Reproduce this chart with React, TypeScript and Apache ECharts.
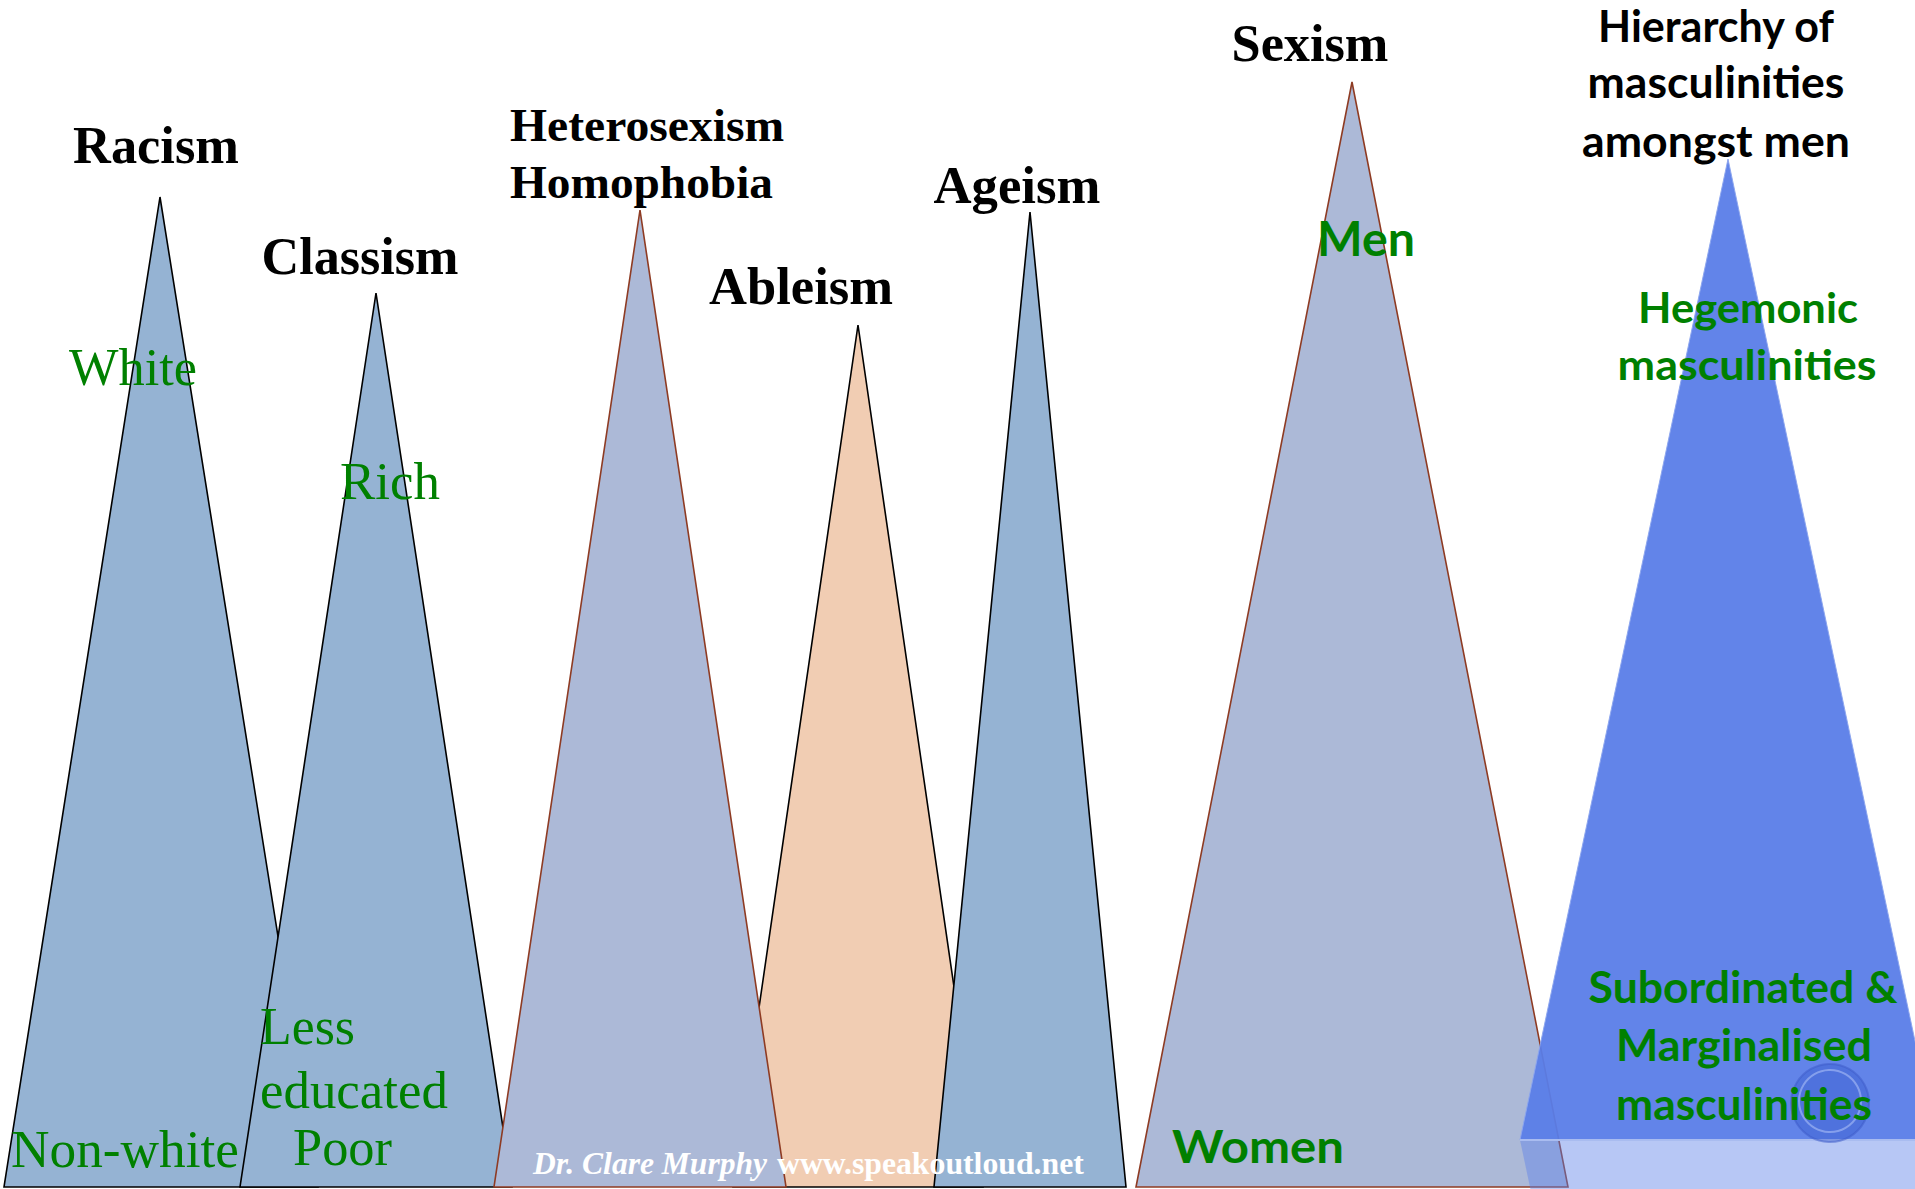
import React, { useEffect, useRef } from "react";
import * as echarts from "echarts";

const W = 1915;
const H = 1189;

// ---- Triangles (drawing order) ----
const triangleNames = ["Racism", "Classism", "Ableism", "Heterosexism", "Ageism", "Sexism", "Hierarchy"];
const apexX = [160, 376, 858, 640, 1030, 1352, 1728];
const apexY = [197, 293, 325, 210, 212, 82, 159];
const baseLeft = [4, 240, 733, 494, 934, 1136, 1520];
const baseRight = [318, 512, 983, 786, 1126, 1568, 1936];
const baseY = [1187, 1187, 1187, 1187, 1187, 1187, 1140];
const fillColors = ["#95B3D3", "#95B3D3", "#F1CDB3", "#ACB9D7", "#95B3D3", "#ACB9D7", "#5A7DE8"];
const strokeColors = ["#000000", "#000000", "#000000", "#8E3B23", "#000000", "#8E3B23", "#8CA5EE"];
const fillOpacity = [1, 1, 1, 1, 1, 1, 0.95];
const HIER = 6;

// ---- Texts: [text, x, baseline, fontSize, targetWidth, align] ----
const SERIF = '"Liberation Serif", "Times New Roman", serif';
const SANS = 'Lato, "Open Sans", sans-serif';

const blackSerifTitles: [string, number, number, number, number, string][] = [
  ["Racism", 156, 163, 53, 166, "center"],
  ["Classism", 360, 274, 53, 197, "center"],
  ["Heterosexism", 510, 141, 47, 274, "left"],
  ["Homophobia", 510, 198, 47, 263, "left"],
  ["Ableism", 801, 304, 53, 184, "center"],
  ["Ageism", 1017, 203, 52, 167, "center"],
  ["Sexism", 1310, 61, 52, 157, "center"],
];
const greenSerifLabels: [string, number, number, number, number, string][] = [
  ["White", 133, 385, 52, 128, "center"],
  ["Rich", 390, 499, 53, 100, "center"],
  ["Non-white", 125, 1167, 53, 228, "center"],
  ["Less", 260, 1044, 53, 95, "left"],
  ["educated", 260, 1108, 53, 188, "left"],
  ["Poor", 293, 1165, 53, 99, "left"],
];
const blackSansTitles: [string, number, number, number, number, string][] = [
  ["Hierarchy of", 1716, 42, 43, 237, "center"],
  ["masculinities", 1716, 98, 43, 257, "center"],
  ["amongst men", 1716, 157, 43, 268, "center"],
];
const greenSansLabels: [string, number, number, number, number, string][] = [
  ["Men", 1366, 256, 47, 98, "center"],
  ["Hegemonic", 1748, 323, 42, 220, "center"],
  ["masculinities", 1747, 380, 42, 259, "center"],
  ["Women", 1258, 1163, 45, 172, "center"],
  ["Subordinated &", 1743, 1003, 43, 309, "center"],
  ["Marginalised", 1744, 1061, 43, 256, "center"],
  ["masculinities", 1744, 1120, 43, 256, "center"],
];
const watermark: [string, number, number, number, number, string, string][] = [
  ["Dr. Clare Murphy", 533, 1174, 32, 234, "left", "italic bold"],
  ["www.speakoutloud.net", 777, 1174, 32, 307, "left", "bold"],
];

function measure(text: string, font: string): number {
  try {
    const t = new (echarts.graphic as any).Text({ style: { text, font } });
    return t.getBoundingRect().width;
  } catch (e) {
    return 0;
  }
}

function makeText(
  text: string,
  x: number,
  baseline: number,
  size: number,
  target: number,
  align: string,
  family: string,
  weight: string,
  color: string,
  central: number
) {
  const font = `${weight} ${size}px ${family}`;
  const w = measure(text, font);
  const sx = w > 0 ? target / w : 1;
  return {
    type: "text",
    z: 100,
    x,
    y: baseline - central * size,
    scaleX: sx,
    style: {
      text,
      font,
      fill: color,
      align,
      verticalAlign: "middle",
    },
  };
}

export default function App() {
  const ref = useRef<HTMLDivElement>(null);

  useEffect(() => {
    document.body.style.margin = "0";
    document.body.style.overflow = "hidden";
    if (!ref.current) return;
    const chart = echarts.init(ref.current, undefined, { renderer: "svg" });

    const triData = triangleNames.map((n, i) => ({
      name: n,
      value: [apexX[i], apexY[i], baseLeft[i], baseRight[i], baseY[i]],
    }));
    const reflData = [
      {
        name: "reflection",
        value: [apexX[HIER], 2 * baseY[HIER] - apexY[HIER], baseLeft[HIER], baseRight[HIER], baseY[HIER]],
      },
    ];

    const graphics: any[] = [];
    blackSerifTitles.forEach((t) =>
      graphics.push(makeText(t[0], t[1], t[2], t[3], t[4], t[5], SERIF, "bold", "#000000", 0.3375))
    );
    greenSerifLabels.forEach((t) =>
      graphics.push(makeText(t[0], t[1], t[2], t[3], t[4], t[5], SERIF, "normal", "#008000", 0.3375))
    );
    blackSansTitles.forEach((t) =>
      graphics.push(makeText(t[0], t[1], t[2], t[3], t[4], t[5], SANS, "bold", "#000000", 0.387))
    );
    greenSansLabels.forEach((t) =>
      graphics.push(makeText(t[0], t[1], t[2], t[3], t[4], t[5], SANS, "bold", "#008000", 0.387))
    );
    watermark.forEach((t) =>
      graphics.push(makeText(t[0], t[1], t[2], t[3], t[4], t[5], SERIF, t[6], "#FFFFFF", 0.3375))
    );
    // decorative button circle
    graphics.push({
      type: "circle",
      z: 90,
      shape: { cx: 1830, cy: 1103, r: 39 },
      style: { fill: "rgba(45,80,200,0.35)", stroke: "rgba(60,90,200,0.5)", lineWidth: 2 },
    });
    graphics.push({
      type: "circle",
      z: 91,
      shape: { cx: 1830, cy: 1101, r: 31 },
      style: { fill: "none", stroke: "rgba(200,215,255,0.45)", lineWidth: 2 },
    });

    const option: any = {
      animation: false,
      backgroundColor: "#FFFFFF",
      grid: { left: 0, right: 0, top: 0, bottom: 0, containLabel: false },
      xAxis: { type: "value", min: 0, max: W, show: false },
      yAxis: { type: "value", min: 0, max: H, inverse: true, show: false },
      tooltip: { show: false },
      series: [
        {
          type: "custom",
          name: "triangles",
          clip: true,
          z: 2,
          encode: { x: [0, 2, 3], y: [1, 4] },
          data: triData,
          renderItem: (params: any, api: any) => {
            const i = params.dataIndex;
            const p0 = api.coord([api.value(0), api.value(1)]);
            const p1 = api.coord([api.value(2), api.value(4)]);
            const p2 = api.coord([api.value(3), api.value(4)]);
            return {
              type: "polygon",
              shape: { points: [p0, p1, p2] },
              style: {
                fill: fillColors[i],
                stroke: strokeColors[i],
                lineWidth: i === HIER ? 1 : 1.6,
                opacity: fillOpacity[i],
                lineJoin: "miter",
              },
            };
          },
        },
        {
          type: "custom",
          name: "reflection",
          clip: true,
          z: 3,
          encode: { x: [0, 2, 3], y: [1, 4] },
          data: reflData,
          renderItem: (params: any, api: any) => {
            const p0 = api.coord([api.value(0), api.value(1)]);
            const p1 = api.coord([api.value(2), api.value(4)]);
            const p2 = api.coord([api.value(3), api.value(4)]);
            return {
              type: "group",
              children: [
                {
                  type: "polygon",
                  shape: { points: [p0, p1, p2] },
                  style: { fill: "#5F82E9", opacity: 0.45 },
                },
                {
                  type: "line",
                  shape: { x1: p1[0], y1: p1[1], x2: p2[0], y2: p2[1] },
                  style: { stroke: "#A9BCF0", lineWidth: 2 },
                },
              ],
            };
          },
        },
      ],
      graphic: graphics,
    };

    chart.setOption(option);
    return () => {
      chart.dispose();
    };
  }, []);

  return (
    <div style={{ position: "fixed", left: 0, top: 0, width: W, height: H, overflow: "hidden" }}>
      <div ref={ref} style={{ width: W, height: H, background: "#FFFFFF" }} />
    </div>
  );
}
